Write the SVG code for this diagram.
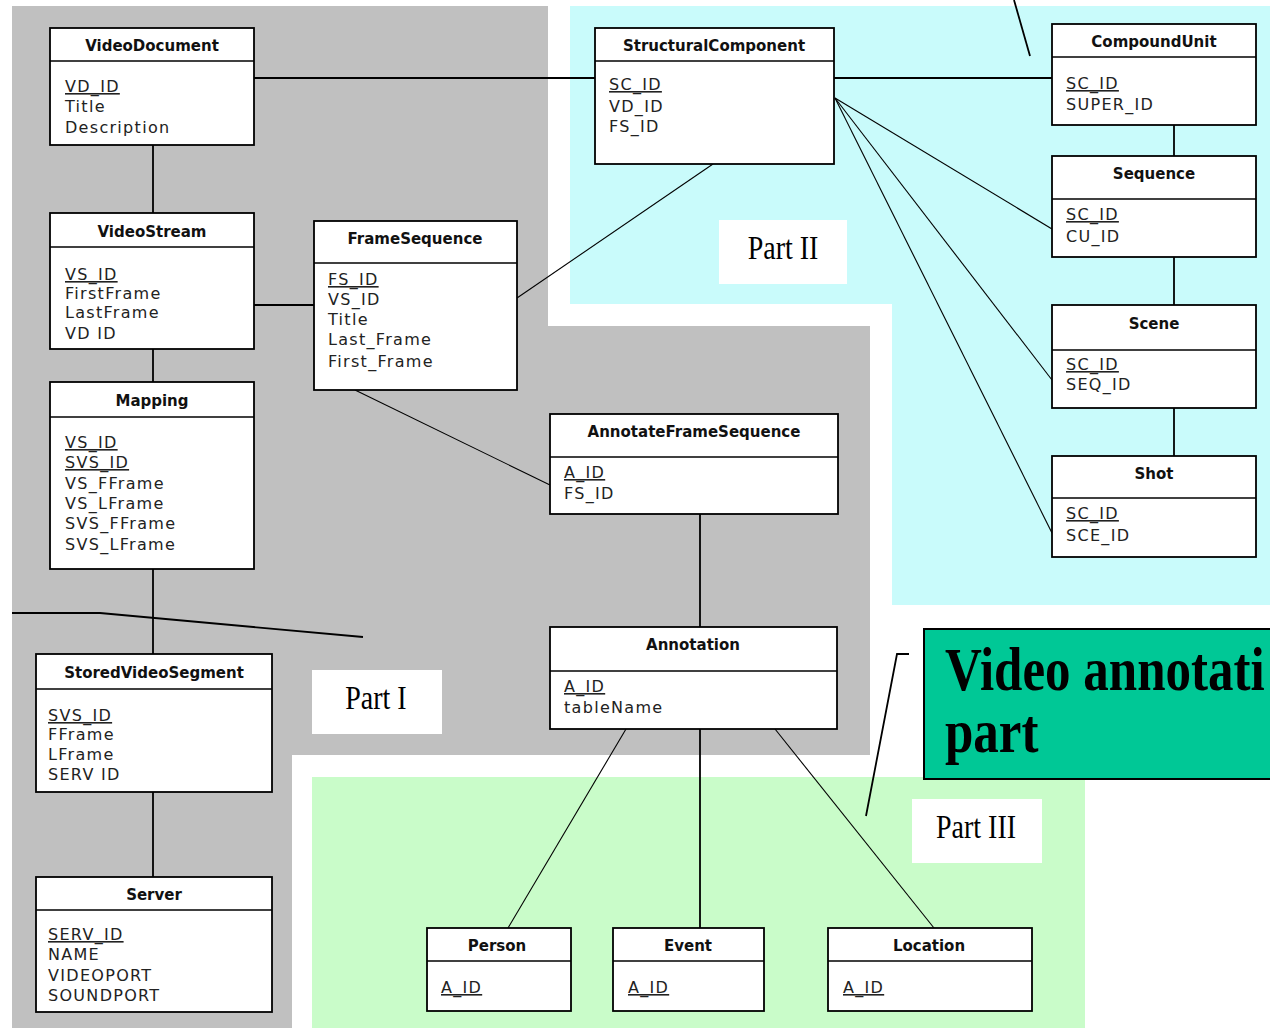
<svg xmlns="http://www.w3.org/2000/svg" width="1270" height="1028" viewBox="0 0 1270 1028">
<style>
.box{fill:#fff;stroke:#000;stroke-width:1.8}
.sep{stroke:#000;stroke-width:1.5}
.title{font-family:"DejaVu Sans",Verdana,sans-serif;font-weight:bold;font-size:15px;text-anchor:middle;fill:#111}
.attr{font-family:"DejaVu Sans",Verdana,sans-serif;font-size:16px;letter-spacing:1.3px;fill:#222}
.pk{text-decoration:underline}
.c{stroke:#000;stroke-width:1.8;fill:none}
.d{stroke:#000;stroke-width:1.1;fill:none}
.plab{fill:#fff}
.ptxt{font-family:"Liberation Serif","Times New Roman",serif;font-size:28px;text-anchor:middle;fill:#000}
.big{font-family:"Liberation Serif","Times New Roman",serif;font-weight:bold;font-size:51px;fill:#000}
</style>
<rect width="1270" height="1028" fill="#fff"/>
<!-- regions -->
<polygon points="12,6 548,6 548,326 870,326 870,755 292,755 292,1028 12,1028" fill="#c0c0c0"/>
<polygon points="570,6 1270,6 1270,605 892,605 892,304 570,304" fill="#c9fbfb"/>
<rect x="312" y="777" width="773" height="251" fill="#c9fcc9"/>
<g id="part1"><rect class="plab" x="312" y="670" width="130" height="64"/><text class="ptxt" transform="translate(376,709) scale(1,1.2)">Part I</text></g>
<g id="part2"><rect class="plab" x="719" y="220" width="128" height="64"/><text class="ptxt" transform="translate(783,259) scale(1,1.2)">Part II</text></g>
<g id="part3"><rect class="plab" x="912" y="799" width="130" height="64"/><text class="ptxt" transform="translate(976,838) scale(1,1.2)">Part III</text></g>
<!-- free lines -->
<polyline class="c" points="12,613 100,613 363,637"/>
<line class="c" x1="1014" y1="0" x2="1030" y2="56" stroke-width="1.5"/>
<polyline class="c" stroke-width="1.5" points="909,654 897,654 866,816"/>
<g id="callout">
<rect x="924" y="629" width="350" height="150" fill="#00c896" stroke="#000" stroke-width="2"/>
<text class="big" transform="translate(945,690) scale(1,1.2)">Video annotati</text>
<text class="big" transform="translate(945,752) scale(1,1.2)">part</text>
</g>
<g id="connectors">
<line class="c" x1="254" y1="78" x2="595" y2="78"/>
<line class="c" x1="153" y1="145" x2="153" y2="213"/>
<line class="c" x1="153" y1="349" x2="153" y2="382"/>
<line class="c" x1="254" y1="305" x2="314" y2="305"/>
<line class="c" x1="153" y1="569" x2="153" y2="654"/>
<line class="c" x1="153" y1="792" x2="153" y2="877"/>
<line class="d" x1="517" y1="298" x2="713" y2="164"/>
<line class="d" x1="355" y1="390" x2="550" y2="485"/>
<line class="c" x1="700" y1="514" x2="700" y2="627"/>
<line class="d" x1="626" y1="729" x2="508" y2="928"/>
<line class="c" x1="700" y1="729" x2="700" y2="928" stroke-width="1.3"/>
<line class="d" x1="775" y1="729" x2="934" y2="928"/>
<line class="c" x1="834" y1="78" x2="1052" y2="78"/>
<line class="c" x1="1174" y1="125" x2="1174" y2="156"/>
<line class="c" x1="1174" y1="257" x2="1174" y2="305"/>
<line class="c" x1="1174" y1="404" x2="1174" y2="456"/>
<line class="d" x1="835" y1="98" x2="1052" y2="229"/>
<line class="d" x1="835" y1="98" x2="1052" y2="380"/>
<line class="d" x1="835" y1="98" x2="1052" y2="533"/>
</g>
<g id="VideoDocument">
<rect class="box" x="50" y="28" width="204" height="117"/><line class="sep" x1="50" y1="61" x2="254" y2="61"/>
<text class="title" x="152" y="51">VideoDocument</text>
<text class="attr" x="65" y="92"><tspan class="pk">VD_ID</tspan></text>
<text class="attr" x="65" y="112">Title</text>
<text class="attr" x="65" y="133">Description</text>
</g>
<g id="VideoStream">
<rect class="box" x="50" y="213" width="204" height="136"/><line class="sep" x1="50" y1="247" x2="254" y2="247"/>
<text class="title" x="152" y="237">VideoStream</text>
<text class="attr" x="65" y="280"><tspan class="pk">VS_ID</tspan></text>
<text class="attr" x="65" y="299">FirstFrame</text>
<text class="attr" x="65" y="318">LastFrame</text>
<text class="attr" x="65" y="339">VD ID</text>
</g>
<g id="Mapping">
<rect class="box" x="50" y="382" width="204" height="187"/><line class="sep" x1="50" y1="417" x2="254" y2="417"/>
<text class="title" x="152" y="406">Mapping</text>
<text class="attr" x="65" y="448"><tspan class="pk">VS_ID</tspan></text>
<text class="attr" x="65" y="468"><tspan class="pk">SVS_ID</tspan></text>
<text class="attr" x="65" y="489">VS_FFrame</text>
<text class="attr" x="65" y="509">VS_LFrame</text>
<text class="attr" x="65" y="529">SVS_FFrame</text>
<text class="attr" x="65" y="550">SVS_LFrame</text>
</g>
<g id="StoredVideoSegment">
<rect class="box" x="36" y="654" width="236" height="138"/><line class="sep" x1="36" y1="689" x2="272" y2="689"/>
<text class="title" x="154" y="678">StoredVideoSegment</text>
<text class="attr" x="48" y="721"><tspan class="pk">SVS_ID</tspan></text>
<text class="attr" x="48" y="740">FFrame</text>
<text class="attr" x="48" y="760">LFrame</text>
<text class="attr" x="48" y="780">SERV ID</text>
</g>
<g id="Server">
<rect class="box" x="36" y="877" width="236" height="135"/><line class="sep" x1="36" y1="910" x2="272" y2="910"/>
<text class="title" x="154" y="900">Server</text>
<text class="attr" x="48" y="940"><tspan class="pk">SERV_ID</tspan></text>
<text class="attr" x="48" y="960">NAME</text>
<text class="attr" x="48" y="981">VIDEOPORT</text>
<text class="attr" x="48" y="1001">SOUNDPORT</text>
</g>
<g id="FrameSequence">
<rect class="box" x="314" y="221" width="203" height="169"/><line class="sep" x1="314" y1="263" x2="517" y2="263"/>
<text class="title" x="415" y="244">FrameSequence</text>
<text class="attr" x="328" y="285"><tspan class="pk">FS_ID</tspan></text>
<text class="attr" x="328" y="305">VS_ID</text>
<text class="attr" x="328" y="325">Title</text>
<text class="attr" x="328" y="345">Last_Frame</text>
<text class="attr" x="328" y="367">First_Frame</text>
</g>
<g id="AnnotateFrameSequence">
<rect class="box" x="550" y="414" width="288" height="100"/><line class="sep" x1="550" y1="457" x2="838" y2="457"/>
<text class="title" x="694" y="437">AnnotateFrameSequence</text>
<text class="attr" x="564" y="478"><tspan class="pk">A_ID</tspan></text>
<text class="attr" x="564" y="499">FS_ID</text>
</g>
<g id="StructuralComponent">
<rect class="box" x="595" y="28" width="239" height="136"/><line class="sep" x1="595" y1="61" x2="834" y2="61"/>
<text class="title" x="714" y="51">StructuralComponent</text>
<text class="attr" x="609" y="90"><tspan class="pk">SC_ID</tspan></text>
<text class="attr" x="609" y="112">VD_ID</text>
<text class="attr" x="609" y="132">FS_ID</text>
</g>
<g id="CompoundUnit">
<rect class="box" x="1052" y="24" width="204" height="101"/><line class="sep" x1="1052" y1="57" x2="1256" y2="57"/>
<text class="title" x="1154" y="47">CompoundUnit</text>
<text class="attr" x="1066" y="89"><tspan class="pk">SC_ID</tspan></text>
<text class="attr" x="1066" y="110">SUPER_ID</text>
</g>
<g id="Sequence">
<rect class="box" x="1052" y="156" width="204" height="101"/><line class="sep" x1="1052" y1="199" x2="1256" y2="199"/>
<text class="title" x="1154" y="179">Sequence</text>
<text class="attr" x="1066" y="220"><tspan class="pk">SC_ID</tspan></text>
<text class="attr" x="1066" y="242">CU_ID</text>
</g>
<g id="Scene">
<rect class="box" x="1052" y="305" width="204" height="103"/><line class="sep" x1="1052" y1="350" x2="1256" y2="350"/>
<text class="title" x="1154" y="329">Scene</text>
<text class="attr" x="1066" y="370"><tspan class="pk">SC_ID</tspan></text>
<text class="attr" x="1066" y="390">SEQ_ID</text>
</g>
<g id="Shot">
<rect class="box" x="1052" y="456" width="204" height="101"/><line class="sep" x1="1052" y1="498" x2="1256" y2="498"/>
<text class="title" x="1154" y="479">Shot</text>
<text class="attr" x="1066" y="519"><tspan class="pk">SC_ID</tspan></text>
<text class="attr" x="1066" y="541">SCE_ID</text>
</g>
<g id="Annotation">
<rect class="box" x="550" y="627" width="287" height="102"/><line class="sep" x1="550" y1="671" x2="837" y2="671"/>
<text class="title" x="693" y="650">Annotation</text>
<text class="attr" x="564" y="692"><tspan class="pk">A_ID</tspan></text>
<text class="attr" x="564" y="713">tableName</text>
</g>
<g id="Person">
<rect class="box" x="427" y="928" width="144" height="83"/><line class="sep" x1="427" y1="961" x2="571" y2="961"/>
<text class="title" x="497" y="951">Person</text>
<text class="attr" x="441" y="993"><tspan class="pk">A_ID</tspan></text>
</g>
<g id="Event">
<rect class="box" x="613" y="928" width="151" height="83"/><line class="sep" x1="613" y1="961" x2="764" y2="961"/>
<text class="title" x="688" y="951">Event</text>
<text class="attr" x="628" y="993"><tspan class="pk">A_ID</tspan></text>
</g>
<g id="Location">
<rect class="box" x="828" y="928" width="204" height="83"/><line class="sep" x1="828" y1="961" x2="1032" y2="961"/>
<text class="title" x="929" y="951">Location</text>
<text class="attr" x="843" y="993"><tspan class="pk">A_ID</tspan></text>
</g>
</svg>
